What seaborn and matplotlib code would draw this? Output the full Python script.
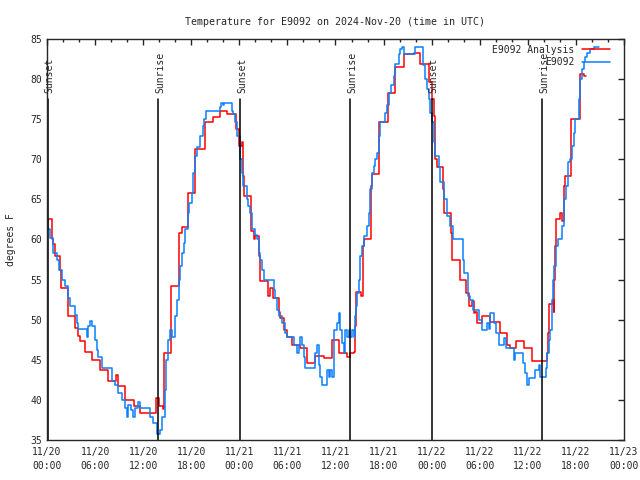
import pandas as pd
import seaborn as sns
import matplotlib.pyplot as plt
import matplotlib.dates as mdates
from matplotlib.lines import Line2D

# hours after 2024-11-20 00:00 UTC, value holds until the next point (step plot)
analysis_hours = [0.08, 0.58, 0.79, 1.0, 1.63, 1.71, 2.67, 3.5, 3.9, 4.13, 4.75, 5.58, 6.63, 7.67,
                  8.63, 8.83, 9.75, 10.8, 11.63, 13.58, 13.92, 14.42, 14.54, 15.5, 16.5, 16.83, 17.58,
                  18.48, 19.73, 20.68, 21.6, 22.52, 23.6, 23.9, 24.3, 24.43, 24.6, 25.48, 25.77, 25.98,
                  26.4, 26.52, 27.52, 27.77, 28.18, 28.9, 29.1, 29.6, 29.93, 30.56, 31.6, 32.43, 33.48,
                  34.52, 35.56, 36.47, 37.42, 37.83, 38.25, 38.46, 38.54, 39.21, 39.38, 39.5, 40.46,
                  40.54, 41.46, 42.54, 43.46, 44.5, 45.75, 46.58, 47.63, 48.04, 48.34, 48.46, 48.67,
                  49.38, 49.5, 50.46, 50.54, 51.58, 52.33, 52.63, 53.04, 53.25, 53.46, 53.67, 54.29,
                  54.48, 55.31, 56.48, 57.4, 57.81, 58.56, 59.48, 60.52, 62.4, 62.48, 62.6, 63.1,
                  63.23, 63.31, 63.44, 63.56, 63.98, 64.27, 64.48, 64.69, 65.44, 66.48, 66.98, 67.31]
analysis_temp = [62.5, 60.0, 59.4, 57.9, 56.25, 54.0, 50.4, 49.0, 48.0, 47.3, 46.0, 45.0, 43.75, 42.3,
                 43.1, 41.7, 40.0, 39.2, 38.4, 40.2, 39.2, 38.9, 45.8, 54.2, 60.8, 61.5, 65.8,
                 71.25, 74.7, 75.3, 76.0, 75.6, 73.75, 71.7, 72.1, 67.9, 65.4, 61.0, 60.0, 60.4,
                 57.9, 54.8, 52.9, 54.0, 52.7, 51.0, 50.2, 48.75, 47.9, 46.9, 46.5, 44.6, 45.5,
                 45.2, 47.5, 45.8, 45.4, 45.8, 46.0, 49.2, 53.5, 52.9, 59.2, 60.0, 66.7,
                 68.1, 74.6, 78.3, 81.5, 83.1, 83.3, 81.9, 79.6, 77.5, 75.4, 70.0, 69.0,
                 66.25, 63.3, 60.8, 57.5, 55.0, 53.3, 51.7, 52.3, 50.8, 51.0, 49.6, 50.4,
                 50.5, 49.7, 48.3, 46.9, 46.5, 47.3, 46.5, 44.8, 45.8, 48.3, 51.9, 52.5,
                 51.0, 55.0, 59.2, 62.5, 63.3, 62.3, 66.7, 67.9, 75.0, 80.6, 80.4, 80.4]

station_hours = [0.0, 0.17, 0.38, 0.79, 1.21, 1.5, 1.83, 2.25, 2.58, 2.88, 3.5, 3.71, 3.92, 4.96,
                 5.17, 5.38, 5.58, 6.0, 6.21, 6.42, 6.83, 8.08, 8.5, 8.92, 9.33, 9.75, 9.96, 10.17,
                 10.5, 10.79, 11.0, 11.33, 11.63, 12.88, 13.29, 13.71, 14.13, 14.33, 14.67, 14.83,
                 15.08, 15.38, 15.58, 16.0, 16.21, 16.42, 16.63, 16.83, 17.04, 17.25, 17.58, 17.75,
                 18.06, 18.27, 18.48, 18.68, 19.1, 19.43, 19.6, 19.85, 21.6, 21.68, 22.02, 22.14,
                 23.06, 23.27, 23.48, 23.68, 24.1, 24.31, 24.52, 24.93, 25.14, 25.35, 25.56, 25.98,
                 26.18, 26.4, 26.6, 26.81, 27.02, 28.27, 28.48, 28.68, 28.89, 29.31, 29.73, 29.93,
                 30.77, 31.18, 31.39, 31.6, 31.81, 32.02, 32.23, 33.48, 33.68, 33.89, 34.1, 34.31,
                 34.93, 35.14, 35.35, 35.56, 35.77, 36.18, 36.4, 36.58, 36.79, 37.0, 37.21, 37.42,
                 37.63, 37.83, 38.04, 38.25, 38.46, 38.54, 38.67, 38.88, 39.08, 39.29, 39.5, 39.92,
                 40.13, 40.33, 40.54, 40.75, 40.96, 41.17, 41.38, 41.58, 42.21, 42.42, 42.63, 42.96,
                 43.25, 43.46, 43.88, 44.08, 44.29, 44.5, 45.96, 46.88, 47.13, 47.42, 47.63, 47.83,
                 48.04, 48.25, 48.46, 48.88, 49.08, 49.5, 49.92, 50.33, 50.63, 51.92, 52.08, 52.54,
                 52.83, 53.13, 53.88, 54.29, 54.9, 55.1, 55.31, 55.81, 56.06, 56.35, 57.06, 57.31,
                 58.23, 58.44, 59.4, 59.69, 59.9, 60.1, 60.94, 61.35, 61.56, 62.31, 62.4, 62.6,
                 62.81, 63.02, 63.15, 63.31, 63.56, 63.73, 64.27, 64.48, 64.81, 64.98, 65.31, 65.52,
                 65.73, 65.94, 66.35, 66.56, 66.77, 66.98, 67.19, 67.4, 67.81, 68.23, 68.85]
station_temp = [62.5, 61.25, 60.2, 58.3, 57.5, 56.25, 55.0, 54.2, 52.7, 51.7, 50.6, 49.6, 48.8, 47.9,
                49.2, 49.8, 49.2, 47.5, 46.25, 45.4, 44.0, 42.3, 41.9, 40.8, 40.0, 39.0, 37.9, 39.4,
                38.8, 37.9, 39.0, 39.8, 39.0, 37.9, 37.1, 35.8, 36.25, 37.9, 41.25, 45.0,
                47.5, 48.75, 47.9, 50.4, 52.5, 55.0, 56.7, 58.3, 59.6, 61.25, 63.3, 64.6,
                65.8, 68.3, 70.4, 71.5, 72.9, 74.2, 75.0, 76.0, 76.5, 77.0, 76.7, 77.0,
                76.0, 75.6, 74.6, 72.9, 70.0, 68.3, 66.7, 65.0, 64.2, 63.3, 61.25, 60.6,
                60.0, 58.3, 57.5, 56.25, 55.0, 53.75, 52.7, 51.25, 50.4, 49.6, 48.3, 47.9,
                46.9, 45.8, 46.9, 47.9, 46.9, 45.4, 44.0, 45.8, 46.9, 44.4, 42.9, 41.9,
                43.75, 42.9, 43.75, 42.9, 48.75, 49.6, 50.8, 48.75, 47.1, 45.8, 48.75, 47.9,
                48.75, 47.9, 48.75, 47.9, 50.4, 51.7, 53.3, 55.0, 57.9, 59.2, 60.4, 61.7,
                63.3, 66.25, 68.3, 69.2, 70.0, 70.8, 72.9, 74.6, 75.8, 76.7, 78.3, 79.2,
                80.4, 81.9, 83.1, 83.75, 84.0, 83.1, 84.0, 81.7, 80.0, 78.75, 77.5, 75.8,
                74.6, 72.1, 70.4, 69.0, 67.1, 65.0, 62.9, 61.7, 60.0, 57.5, 55.8, 52.9,
                52.5, 51.25, 50.0, 48.75, 49.6, 48.8, 50.8, 49.6, 48.3, 46.9, 47.7, 46.5,
                45.0, 45.8, 44.6, 43.3, 41.9, 42.7, 43.75, 44.4, 42.9, 44.0, 45.8, 47.5,
                48.75, 52.5, 55.0, 56.7, 59.2, 60.0, 61.7, 65.0, 66.7, 69.6, 70.0, 71.7,
                73.3, 75.0, 77.5, 80.0, 81.25, 82.1, 82.7, 83.3, 83.8, 84.0, 84.0]

sunset_hours = [0.1, 24.1, 48.0]
sunrise_hours = [13.85, 37.83, 61.8]

start = pd.Timestamp('2024-11-20 00:00')
to_time = lambda h: start + pd.to_timedelta(h, unit='h')

df_a = pd.DataFrame({'time': to_time(analysis_hours), 'temp': analysis_temp})
df_s = pd.DataFrame({'time': to_time(station_hours), 'temp': station_temp})

sns.set_style('white')
plt.rcParams['font.family'] = ['DejaVu Sans Mono']
plt.rcParams['font.size'] = 7

fig, ax = plt.subplots(figsize=(6.4, 4.8), dpi=100)
fig.subplots_adjust(left=0.0734, right=0.975, bottom=0.0833, top=0.919)

red = '#ff0000'
blue = '#0a80ff'
sns.lineplot(data=df_a, x='time', y='temp', color=red, lw=1.1, drawstyle='steps-post',
             estimator=None, sort=False, ax=ax)
sns.lineplot(data=df_s, x='time', y='temp', color=blue, lw=1.1, drawstyle='steps-post',
             estimator=None, sort=False, ax=ax)

# sunrise / sunset markers
for name, hours in (('Sunset', sunset_hours), ('Sunrise', sunrise_hours)):
    for h in hours:
        t = to_time(h)
        ax.axvline(t, ymin=0, ymax=0.85, color='black', lw=1.1)
        ax.text(t + pd.Timedelta(minutes=15), 78.3, name, rotation=90, ha='center', va='bottom',
                fontsize=7)

ax.set_xlim(start, start + pd.Timedelta(hours=72))
ax.set_ylim(35, 85)
ax.set_yticks(range(35, 86, 5))
ax.xaxis.set_major_locator(mdates.HourLocator(byhour=[0, 6, 12, 18]))
ax.xaxis.set_minor_locator(mdates.HourLocator(byhour=range(0, 24, 2)))
ax.xaxis.set_major_formatter(mdates.DateFormatter('%m/%d\n%H:%M'))
ax.tick_params(which='both', direction='in', top=True, right=True, labelsize=7, width=1)
ax.tick_params(which='major', length=4)
ax.tick_params(which='minor', length=2)
ax.tick_params(axis='x', pad=5)
for lab in ax.get_xticklabels():
    lab.set_linespacing(1.5)
for s in ax.spines.values():
    s.set_linewidth(1.0)

ax.set_xlabel('')
ax.set_ylabel('degrees F', fontsize=7, labelpad=10)
ax.set_title('Temperature for E9092 on 2024-Nov-20 (time in UTC)', fontsize=7.2, pad=10)

handles = [Line2D([], [], color=red, lw=1.1), Line2D([], [], color=blue, lw=1.1)]
ax.legend(handles, ['E9092 Analysis', 'E9092'], loc='upper right', frameon=False,
          bbox_to_anchor=(0.983, 0.995), borderaxespad=0,
          markerfirst=False, handlelength=2.9, handletextpad=0.8,
          labelspacing=0.25, fontsize=7)

plt.savefig('out.png', dpi=100)
